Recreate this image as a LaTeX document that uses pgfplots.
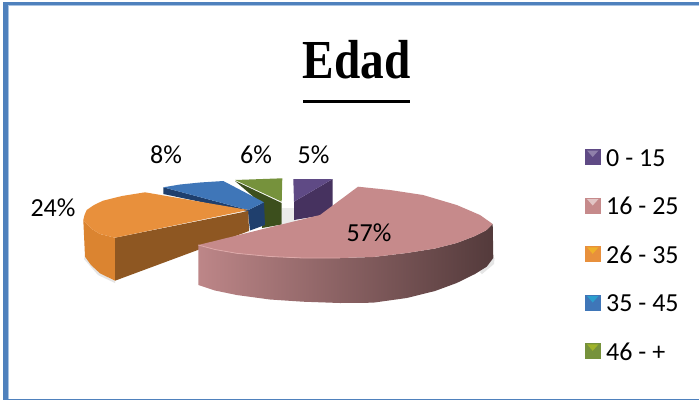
\documentclass[border=0pt]{standalone}
\usepackage{pgfplots}
\pgfplotsset{compat=1.18}
\usepackage{fontspec}
\setmainfont{Carlito}
\newfontfamily\titlefont{Liberation Serif}
\definecolor{frameb}{HTML}{4F81BD}
\definecolor{framel}{HTML}{A9C3E2}
\definecolor{purT}{HTML}{5F4A85}
\definecolor{purS}{HTML}{46325F}
\definecolor{greT}{HTML}{76923C}
\definecolor{greS}{HTML}{3C4F1D}
\definecolor{bluT}{HTML}{3F76B8}
\definecolor{bluS}{HTML}{1F3F6D}
\definecolor{oraT}{HTML}{E8903C}
\definecolor{oraE}{HTML}{DB8430}
\definecolor{oraS}{HTML}{8E5722}
\definecolor{pinT}{HTML}{C68A8B}
\definecolor{pinL}{HTML}{BD8688}
\definecolor{pinM}{HTML}{8C6263}
\definecolor{pinR}{HTML}{533A3B}
\definecolor{pinE}{HTML}{DDA9A9}
\newcommand\poly[2]{\addplot[draw=none,fill=#1] coordinates {#2} --cycle;}
\tikzset{
  lbl/.style={anchor=base, font=\fontsize{26}{26}\selectfont, text=black, inner sep=0pt},
  leg/.style={anchor=base west, font=\fontsize{26}{26}\selectfont, text=black, inner sep=0pt},
}
\begin{document}
\begin{tikzpicture}
\begin{axis}[
  scale only axis, width=699pt, height=400pt,
  xmin=0, xmax=699, ymin=0, ymax=400, y dir=reverse,
  hide axis,
]
% background fixes the picture's extent
\poly{white}{(0,0)(699,0)(699,400)(0,400)}
% frame
\poly{frameb}{(3.3,2)(699,2)(699,4.7)(3.3,4.7)}
\poly{framel}{(8,4.7)(699,4.7)(699,5.5)(8,5.5)}
\poly{frameb}{(3.3,2)(8,2)(8,400)(3.3,400)}
\poly{framel}{(8,5)(9,5)(9,398.5)(8,398.5)}
\poly{frameb}{(3.3,398.7)(699,398.7)(699,400)(3.3,400)}
% title rule
\poly{black}{(303,100)(410,100)(410,102.8)(303,102.8)}
% soft shadows
\poly{black!8}{(282,208)(296,208)(296,224)(282,226)}
\poly{black!10}{(85,256)(100,273)(115,281)(115,283)(98,275)(84,259)}
\poly{black!10}{(492,258)(494.5,258)(494,264)(482,274)(480,272)}
% purple 0-15
\poly{purS}{(294,201.7)(332.7,179)(332.7,206.7)(320,215.7)(294,220)}
\poly{purT}{(293.3,179)(332.7,179)(294,201.7)}
% green 46 - +
\poly{greS}{(235,181)(281.7,203)(281.7,224.5)(262,228)(262,204)}
\poly{greT}{(235,180)(282.3,178.3)(281.7,201.7)}
% blue 35-45
\poly{bluS}{(163.3,187.3)(248.3,210)(264,202.3)(265,225)(250,230.5)(248,212)(163.3,194)}
\poly{bluT}{(163.3,187.3)(180,184.5)(200,182.5)(223.3,181)(264,202.3)(248.3,210)}
% orange 26-35
\poly{oraE}{(83.3,220)(85,256.7)(91,265)(100,273.3)(115,280.7)(115,237.7)(100,234)(91.7,229)}
\poly{oraS}{(115,237.7)(248.3,211)(249,231)(115,280.7)}
\poly{oraT}{(83.3,220)(84.5,215)(86.7,210)(94,205)(103,200.7)(122,196)(145,192.3)(248.3,210)(115,237.7)(100,234)(91.7,229)}
% pink 16-25
\addplot[draw=none,left color=pinL,middle color=pinM,right color=pinR] coordinates
 {(198.3,245)(215,249.5)(236.7,253.3)(270,256.5)(303,258)(340,258)(373,257)(406.7,253)(435,248.5)(456.7,243)(475,236)(486.7,230)(492.7,224)
  (493.3,258)(486.7,266.7)(475,274)(456.7,283)(435,291)(406.7,298)(373,302.7)(340,303)(303,301.7)(270,299.5)(236.7,295)(215,290.5)(198.3,285)} --cycle;
\poly{pinT}{(198.3,245)(320,215)(358,186.7)(390,190)(423,195)(456.7,205)(480,215)(492.7,224)(486.7,230)(475,236)(456.7,243)(435,248.5)(406.7,253)(373,257)(340,258)(303,258)(270,256.5)(236.7,253.3)(215,249.5)}
\addplot[pinE,line width=0.8pt] coordinates {(198.3,245)(215,249.5)(236.7,253.3)(270,256.5)(303,258)(340,258)};
% legend swatches
\poly{purT}{(584.7,149.3)(600.7,149.3)(600.7,165.3)(584.7,165.3)}
\poly{pinT}{(584.7,197.7)(600.7,197.7)(600.7,213.7)(584.7,213.7)}
\poly{oraT}{(584.7,246)(600.7,246)(600.7,262)(584.7,262)}
\poly{bluT}{(584.7,294.7)(600.7,294.7)(600.7,310.7)(584.7,310.7)}
\poly{greT}{(584.7,343)(600.7,343)(600.7,359)(584.7,359)}
\poly{purT!70!white}{(587,150.5)(598.5,150.5)(592.7,157)}
\poly{pinT!50!white}{(587,199)(598.5,199)(592.7,205.5)}
\poly{oraT!70!yellow}{(587,247.3)(598.5,247.3)(592.7,253.8)}
\poly{bluT!70!cyan}{(587,296)(598.5,296)(592.7,302.5)}
\poly{greT!70!yellow}{(587,344.3)(598.5,344.3)(592.7,350.8)}
% text
\node[anchor=base,inner sep=0pt] at (axis cs:356.5,78) {\scalebox{0.86}[1]{\fontsize{55}{55}\titlefont\bfseries Edad}};
\node[lbl] at (axis cs:313.5,163) {5\%};
\node[lbl] at (axis cs:256,163) {6\%};
\node[lbl] at (axis cs:166,163) {8\%};
\node[lbl] at (axis cs:53,216) {24\%};
\node[lbl] at (axis cs:369,241) {57\%};
\node[leg] at (axis cs:606,166) {0 - 15};
\node[leg] at (axis cs:606,214.5) {16 - 25};
\node[leg] at (axis cs:606,263) {26 - 35};
\node[leg] at (axis cs:606,311.5) {35 - 45};
\node[leg] at (axis cs:606,360) {46 - +};
\end{axis}
\end{tikzpicture}
\end{document}
